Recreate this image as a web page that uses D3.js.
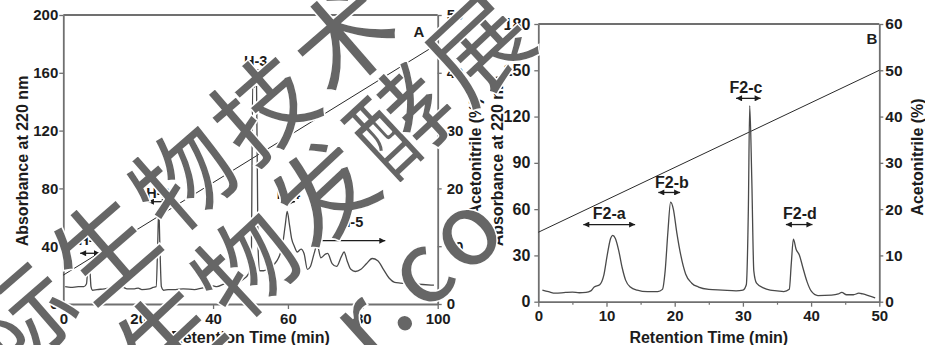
<!DOCTYPE html>
<html><head><meta charset="utf-8">
<script src="https://cdn.jsdelivr.net/npm/d3@7"></script>
<style>
body{margin:0;background:#fff}
svg{display:block}
text{font-family:"Liberation Sans",Arial,sans-serif;font-weight:bold;fill:#1c1c1c}
</style></head><body>
<svg id="c" width="925" height="345"></svg>
<script>
// ---------- DATA ----------
// Panel A chromatogram
const aTime = [0.5,2,4,5.5,6.2,6.5,6.8,7.1,7.4,7.8,9,11,12,13,15,16,17,19,20,21,23,24,24.8,25.2,25.5,25.8,26.2,26.8,28,30,32,35,37,39,40,41,43,45,46,48,49.5,50.2,50.6,51.0,51.6,52.0,52.5,53.5,55,56.5,57.5,58.5,59.3,59.8,60.4,61,61.7,62.5,63.5,64.3,65.2,66,67,67.8,68.8,70,70.6,71.8,73,74.3,75,75.8,76.8,78,79.5,81,82.5,84,85.5,87,88.5,90,93,96,99];
const aAbs  = [12,11.5,12,12,14,24,29,24,12,9.5,10,10.5,11,10,10.5,11.5,10.5,10.5,11,10,10.5,11.5,12,40,66,40,12,9.5,10,10,10.5,10,11,12,12.5,12,14,15,14.5,17,21,30,155,150,155,40,23,23,25,28,32,40,55,64,55,45,40,36,38,35,24,26,35,41,32,34.5,35,28,26,33,36,30,24,22.5,24,28,31.5,30,24,18,15,14.5,14,13.5,13];
const aGradTime = [0,100];
const aGradAcn  = [5,45];
const aXTicks  = [0,20,40,60,80,100];
const aYTicks  = [0,40,80,120,160,200];
const aY2Ticks = [0,10,20,30,40,50];
const aPeakNames = ["H-1","H-2","H-3","H-4","H-5"];
const aPeakFrom  = [4.5,22.6,49.9,58.3,66.8];
const aPeakTo    = [9.8,27.9,53.3,61.9,86];
const aArrowLvl  = [35.1,70.8,160.8,70.8,43.8];
const aLabelT    = [7.1,25.3,51.4,60.1,77];
const aLabelLvl  = [44.3,76.8,168.4,76.6,57];

// Panel B chromatogram
const bTime = [0.6,1.5,2.5,4,5,6,7,7.7,8.2,9,9.6,10.1,10.6,10.9,11.3,11.8,12.3,12.8,13.5,14.5,16,17.5,18.2,18.6,19,19.4,19.8,20.3,20.9,21.6,22.5,23.5,25,27,29,30,30.5,30.8,31.0,31.3,31.6,32,33,34,35,36,36.8,37.1,37.4,37.8,38.3,38.8,39.4,40,41,43,44,44.5,45.2,46.2,47,47.6,48.5,49.4];
const bAbs  = [7.5,6.5,5.5,6,6.2,5.8,6,7,9.5,11,17,30,41,43,41,33,22,14,9.5,7.5,6.5,6.5,8,20,45,64.5,60,45,30,18,12,9.5,8,7.5,7,7.5,11,60,127,80,20,12,9,7.5,7,6.5,8,25,40.5,34,30,22,13,7,4,4.2,5,6,4.5,4.5,5.5,5,3.8,2.5];
const bGradTime = [0,50];
const bGradAcn  = [15,50];
const bXTicks  = [0,10,20,30,40,50];
const bXMinor  = [5,15,25,35,45];
const bYTicks  = [0,30,60,90,120,150,180];
const bY2Ticks = [0,10,20,30,40,50,60];
const bPeakNames = ["F2-a","F2-b","F2-c","F2-d"];
const bPeakFrom  = [6.6,17.6,29.0,36.3];
const bPeakTo    = [14.2,20.8,32.6,40.2];
const bArrowLvl  = [50,70.8,131.8,50];
const bLabelT    = [10.4,19.6,30.45,38.35];
const bLabelLvl  = [57.3,77.6,139,57.3];

// Watermark text
const wmText = ["际生物技术","生物发酵展","r.co"];

// ---------- DRAW ----------
const svg = d3.select("#c");
const AX = "#707070";

const defs = svg.append("defs");
defs.append("marker").attr("id","ah").attr("viewBox","0 0 10 10")
  .attr("refX",10).attr("refY",5).attr("markerWidth",7).attr("markerHeight",6)
  .attr("markerUnits","userSpaceOnUse").attr("orient","auto-start-reverse")
  .append("path").attr("d","M0,0L10,5L0,10z").attr("fill","#1c1c1c");

function panel(p){
  const g = svg.append("g");
  const x = d3.scaleLinear().domain(p.xDom).range([p.L,p.R]);
  const y = d3.scaleLinear().domain(p.yDom).range([p.B,p.T]);
  const y2 = d3.scaleLinear().domain(p.y2Dom).range([p.B,p.T]);

  g.append("line").attr("x1",p.L).attr("x2",p.R).attr("y1",p.T).attr("y2",p.T)
    .attr("stroke",AX).attr("stroke-width",1.8);

  const style = (sel,fs)=>{
    sel.select(".domain").attr("stroke",AX).attr("stroke-width",1.8);
    sel.selectAll(".tick line").attr("stroke",AX).attr("stroke-width",1.3);
    sel.selectAll(".tick text").style("fill","#1c1c1c").style("font-size",fs+"px")
      .style("font-family",'"Liberation Sans",Arial,sans-serif').style("font-weight","bold");
  };
  if(p.xMinor){
    const gm = g.append("g").attr("transform",`translate(0,${p.B})`)
      .call(d3.axisBottom(x).tickValues(p.xMinor).tickSize(3).tickFormat(""));
    gm.select(".domain").remove();
    gm.selectAll(".tick line").attr("stroke",AX).attr("stroke-width",1.2);
  }
  const gx = g.append("g").attr("transform",`translate(0,${p.B})`)
    .call(d3.axisBottom(x).tickValues(p.xTicks).tickSize(5).tickSizeOuter(0).tickPadding(4));
  style(gx,p.xfs);
  const gy = g.append("g").attr("transform",`translate(${p.L},0)`)
    .call(d3.axisLeft(y).tickValues(p.yTicks).tickSize(4).tickSizeOuter(0).tickPadding(p.yPad));
  style(gy,p.yfs);
  const gy2 = g.append("g").attr("transform",`translate(${p.R},0)`)
    .call(d3.axisRight(y2).tickValues(p.y2Ticks).tickSize(4).tickSizeOuter(0).tickPadding(p.y2Pad));
  style(gy2,p.y2fs);

  g.append("text").attr("x",(p.L+p.R)/2).attr("y",p.xtY).attr("text-anchor","middle")
    .style("font-size","16px").text("Retention Time (min)");
  g.append("text").attr("transform",`translate(${p.ytX},${p.ytY}) rotate(-90)`)
    .attr("text-anchor","middle").attr("dy","0.36em").style("font-size","16px").text("Absorbance at 220 nm");
  g.append("text").attr("transform",`translate(${p.y2tX},${p.y2tY}) rotate(-90)`)
    .attr("text-anchor","middle").attr("dy","0.36em").style("font-size","16px").text("Acetonitrile (%)");
  g.append("text").attr("x",p.letX).attr("y",p.letY).attr("text-anchor","middle")
    .attr("dy","0.36em").style("font-size","15px").text(p.letter);

  const grad = p.gT.map((t,i)=>[t,p.gV[i]]);
  g.append("path").datum(grad).attr("fill","none").attr("stroke","#2a2a2a").attr("stroke-width",1)
    .attr("d",d3.line().x(d=>x(d[0])).y(d=>y2(d[1])));

  const tr = p.time.map((t,i)=>[t,p.abs[i]]);
  g.append("path").datum(tr).attr("fill","none").attr("stroke","#4a4a4a").attr("stroke-width",1.3)
    .attr("stroke-linejoin","round")
    .attr("d",d3.line().curve(d3.curveMonotoneX).x(d=>x(d[0])).y(d=>y(d[1])));

  p.names.forEach((n,i)=>{
    g.append("line").attr("x1",x(p.from[i])).attr("x2",x(p.to[i]))
      .attr("y1",y(p.alvl[i])).attr("y2",y(p.alvl[i]))
      .attr("stroke","#1c1c1c").attr("stroke-width",1.3)
      .attr("marker-start","url(#ah)").attr("marker-end","url(#ah)");
    g.append("text").attr("x",x(p.lt[i])).attr("y",y(p.llvl[i])).attr("dy","0.36em")
      .attr("text-anchor","middle").style("font-size",p.lfs+"px").text(n);
  });
}

panel({L:63.3,R:437.7,T:15,B:304,xDom:[0,100],yDom:[0,200],y2Dom:[0,50],
  xTicks:aXTicks,yTicks:aYTicks,y2Ticks:aY2Ticks,xfs:15,yfs:15,y2fs:15,yPad:1,y2Pad:5,
  xtY:343,ytX:22,ytY:161,y2tX:475,y2tY:157,letter:"A",letX:419,letY:32,
  gT:aGradTime,gV:aGradAcn,time:aTime,abs:aAbs,
  names:aPeakNames,from:aPeakFrom,to:aPeakTo,alvl:aArrowLvl,lt:aLabelT,llvl:aLabelLvl,lfs:14.5});

panel({L:538.3,R:879.3,T:24,B:301.7,xDom:[0,50],yDom:[0,180],y2Dom:[0,60],
  xTicks:bXTicks,xMinor:bXMinor,yTicks:bYTicks,y2Ticks:bY2Ticks,xfs:15,yfs:16,y2fs:15.5,yPad:4,y2Pad:2,
  xtY:343,ytX:497,ytY:161,y2tX:917,y2tY:157,letter:"B",letX:872,letY:39,
  gT:bGradTime,gV:bGradAcn,time:bTime,abs:bAbs,
  names:bPeakNames,from:bPeakFrom,to:bPeakTo,alvl:bArrowLvl,lt:bLabelT,llvl:bLabelLvl,lfs:16});

// watermark
const wmPos = [[187,177,-41],[327,192,-43],[418,272,-42]];
const wm = svg.append("g");
wmText.forEach((t,i)=>{
  wm.append("text").attr("transform",`translate(${wmPos[i][0]},${wmPos[i][1]}) rotate(${wmPos[i][2]})`)
    .attr("text-anchor","middle").attr("dy","0.36em")
    .style("font-family",'"Noto Sans CJK SC",sans-serif').style("font-weight","500")
    .style("font-size","100px").style("letter-spacing","6px")
    .style("fill","#666666").style("stroke","#ffffff").style("stroke-width","1.5px")
    .text(t);
});
</script>
</body></html>
